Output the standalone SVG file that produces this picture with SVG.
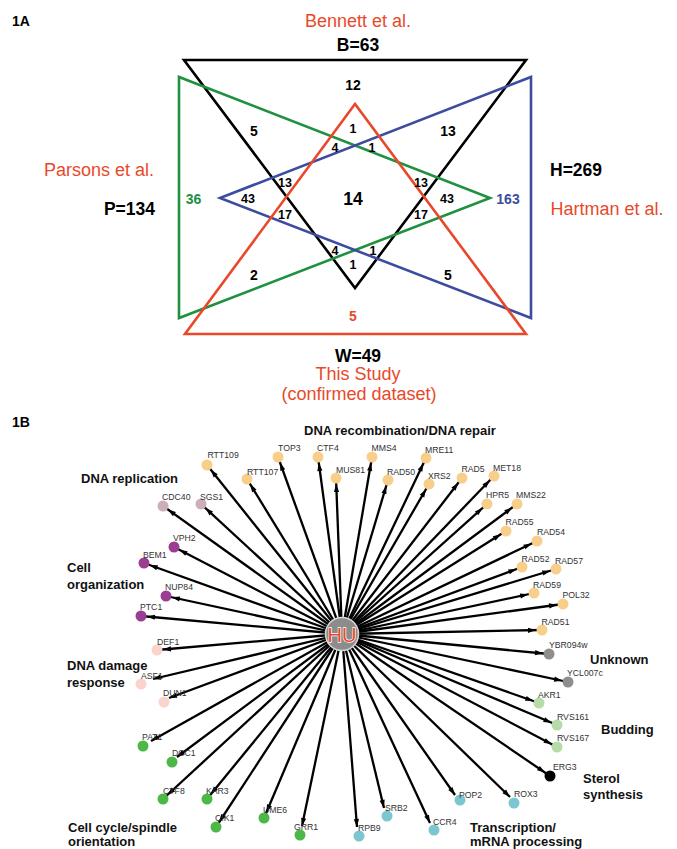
<svg xmlns="http://www.w3.org/2000/svg" width="677" height="849" viewBox="0 0 677 849">
<defs>
<style>
text{font-family:"Liberation Sans",Arial,sans-serif}
.ref{fill:#E8492A;font-size:18px}
.tot{font-weight:bold;font-size:17.5px;fill:#000}
.n{font-weight:bold;font-size:14px;text-anchor:middle;fill:#000}
.s{font-weight:bold;font-size:12.5px;text-anchor:middle;fill:#000}
.tri{fill:none;stroke-width:2.6;stroke-linejoin:miter}
.cat{font-weight:bold;font-size:13px;fill:#111}
.lb{font-size:8.7px;fill:#333}
.e{stroke:#000;stroke-width:2.3;fill:none}
.ea{marker-end:url(#a)}
.eb{marker-end:url(#b)}
.or{fill:#F8CF8A}.mv{fill:#CDAFB8}.pu{fill:#9B3D92}.pk{fill:#FAD3CC}
.gr{fill:#4CB848}.gy{fill:#8E8E8E}.lg{fill:#B7DBA6}.bk{fill:#000}.cy{fill:#7CC6D2}
</style>
<marker id="a" markerUnits="userSpaceOnUse" markerWidth="8" markerHeight="6" refX="14" refY="3" orient="auto" overflow="visible"><path d="M0,0.4 L8,3 L0,5.6 z" fill="#000"/></marker>
<marker id="b" markerUnits="userSpaceOnUse" markerWidth="8" markerHeight="6" refX="8" refY="3" orient="auto" overflow="visible"><path d="M0,0.4 L8,3 L0,5.6 z" fill="#000"/></marker>
</defs>
<rect width="677" height="849" fill="#fff"/>

<!-- Panel 1A -->
<text x="12" y="26" style="font-weight:bold;font-size:14px">1A</text>
<g id="venn">
<polygon class="tri" stroke="#000" points="184,60 526,60 355,288"/>
<polygon class="tri" stroke="#21903F" points="179,77 179,318 490,198"/>
<polygon class="tri" stroke="#3E4C9E" points="531,77 531,318 220,198"/>
<polygon class="tri" stroke="#E8492A" points="355,104 185,334 526,334"/>
</g>
<g id="venn-labels">
<text class="ref" x="358" y="27" text-anchor="middle">Bennett et al.</text>
<text class="tot" x="358" y="51" text-anchor="middle">B=63</text>
<text class="ref" x="99" y="176" text-anchor="middle">Parsons et al.</text>
<text class="tot" x="155" y="215" text-anchor="end">P=134</text>
<text class="tot" x="550" y="176">H=269</text>
<text class="ref" x="607" y="215" text-anchor="middle">Hartman et al.</text>
<text class="tot" x="358" y="362" text-anchor="middle">W=49</text>
<text class="ref" x="358" y="380" text-anchor="middle">This Study</text>
<text class="ref" x="359" y="400" text-anchor="middle">(confirmed dataset)</text>
</g>
<g id="venn-counts">
<text class="n" x="353" y="90">12</text>
<text class="n" x="254" y="136">5</text>
<text class="n" x="448" y="136">13</text>
<text class="s" x="353" y="133">1</text>
<text class="s" x="335" y="152">4</text>
<text class="s" x="372" y="152">1</text>
<text class="s" x="285" y="187">13</text>
<text class="s" x="421" y="187">13</text>
<text class="n" x="193.5" y="204" style="fill:#21903F">36</text>
<text class="s" x="248" y="203">43</text>
<text class="n" x="353" y="205" style="font-size:17.5px">14</text>
<text class="s" x="447" y="203">43</text>
<text class="n" x="508" y="204" style="fill:#3E4C9E">163</text>
<text class="s" x="285" y="219">17</text>
<text class="s" x="421" y="219">17</text>
<text class="s" x="335" y="255">4</text>
<text class="s" x="373" y="255">1</text>
<text class="s" x="353" y="269">1</text>
<text class="n" x="254" y="280">2</text>
<text class="n" x="448" y="280">5</text>
<text class="n" x="353" y="321" style="fill:#E8492A">5</text>
</g>

<!-- Panel 1B -->
<text x="12" y="427" style="font-weight:bold;font-size:14px">1B</text>
<g id="categories">
<text class="cat" x="304" y="435">DNA recombination/DNA repair</text>
<text class="cat" x="81" y="483">DNA replication</text>
<text class="cat" x="67" y="572">Cell</text>
<text class="cat" x="67" y="589">organization</text>
<text class="cat" x="67" y="670">DNA damage</text>
<text class="cat" x="67" y="687">response</text>
<text class="cat" x="68" y="832">Cell cycle/spindle</text>
<text class="cat" x="68" y="846">orientation</text>
<text class="cat" x="590" y="664">Unknown</text>
<text class="cat" x="601" y="734">Budding</text>
<text class="cat" x="583" y="783">Sterol</text>
<text class="cat" x="583" y="799">synthesis</text>
<text class="cat" x="470" y="832">Transcription/</text>
<text class="cat" x="470" y="846">mRNA processing</text>
</g>

<g id="connectors">
<line class="e ea" x1="342" y1="634" x2="207" y2="465"/>
<line class="e ea" x1="342" y1="634" x2="278" y2="457"/>
<line class="e ea" x1="342" y1="634" x2="318" y2="457"/>
<line class="e ea" x1="342" y1="634" x2="336" y2="478"/>
<line class="e ea" x1="342" y1="634" x2="247" y2="479"/>
<line class="e ea" x1="342" y1="634" x2="372" y2="457"/>
<line class="e ea" x1="342" y1="634" x2="426" y2="458"/>
<line class="e ea" x1="342" y1="634" x2="388" y2="480"/>
<line class="e ea" x1="342" y1="634" x2="429" y2="484"/>
<line class="e ea" x1="342" y1="634" x2="462" y2="478"/>
<line class="e ea" x1="342" y1="634" x2="494" y2="476"/>
<line class="e ea" x1="342" y1="634" x2="487" y2="504"/>
<line class="e ea" x1="342" y1="634" x2="517" y2="504"/>
<line class="e ea" x1="342" y1="634" x2="506" y2="531"/>
<line class="e ea" x1="342" y1="634" x2="537" y2="541"/>
<line class="e ea" x1="342" y1="634" x2="522" y2="567"/>
<line class="e ea" x1="342" y1="634" x2="556" y2="569"/>
<line class="e ea" x1="342" y1="634" x2="534" y2="593"/>
<line class="e ea" x1="342" y1="634" x2="563" y2="604"/>
<line class="e ea" x1="342" y1="634" x2="542" y2="630"/>
<line class="e ea" x1="342" y1="634" x2="163" y2="506"/>
<line class="e ea" x1="342" y1="634" x2="201" y2="504"/>
<line class="e ea" x1="342" y1="634" x2="174" y2="547"/>
<line class="e ea" x1="342" y1="634" x2="144" y2="563"/>
<line class="e ea" x1="342" y1="634" x2="166" y2="596"/>
<line class="e ea" x1="342" y1="634" x2="141" y2="616"/>
<line class="e ea" x1="342" y1="634" x2="157" y2="650"/>
<line class="e eb" x1="342" y1="634" x2="153" y2="679"/>
<line class="e eb" x1="342" y1="634" x2="169" y2="698"/>
<line class="e eb" x1="342" y1="634" x2="151" y2="741"/>
<line class="e eb" x1="342" y1="634" x2="177" y2="757"/>
<line class="e ea" x1="342" y1="634" x2="163" y2="799"/>
<line class="e ea" x1="342" y1="634" x2="207" y2="799"/>
<line class="e ea" x1="342" y1="634" x2="216" y2="827"/>
<line class="e ea" x1="342" y1="634" x2="264" y2="818"/>
<line class="e eb" x1="342" y1="634" x2="302" y2="826"/>
<line class="e eb" x1="342" y1="634" x2="357" y2="827"/>
<line class="e eb" x1="342" y1="634" x2="384" y2="808"/>
<line class="e eb" x1="342" y1="634" x2="430" y2="823"/>
<line class="e eb" x1="342" y1="634" x2="455" y2="795"/>
<line class="e eb" x1="342" y1="634" x2="510" y2="797"/>
<line class="e ea" x1="342" y1="634" x2="549" y2="654"/>
<line class="e ea" x1="342" y1="634" x2="568" y2="682"/>
<line class="e ea" x1="342" y1="634" x2="539" y2="703"/>
<line class="e ea" x1="342" y1="634" x2="557" y2="725"/>
<line class="e ea" x1="342" y1="634" x2="557" y2="747"/>
<line class="e ea" x1="342" y1="634" x2="550" y2="776"/>
</g>

<g id="HU"><circle cx="342" cy="634" r="16.5" fill="#8C8C8C" stroke="#d8d8d8" stroke-width="1.5"/><text x="342" y="641.5" text-anchor="middle" style="font-size:20px;fill:#E8492A;stroke:#fff;stroke-width:1.3;paint-order:stroke">HU</text></g>

<g id="RTT109"><circle class="or" cx="207" cy="465" r="5.5"/><text class="lb" x="207.5" y="458">RTT109</text></g>
<g id="TOP3"><circle class="or" cx="278" cy="457" r="5.5"/><text class="lb" x="278" y="451">TOP3</text></g>
<g id="CTF4"><circle class="or" cx="318" cy="457" r="5.5"/><text class="lb" x="317" y="451">CTF4</text></g>
<g id="MUS81"><circle class="or" cx="336" cy="478" r="5.5"/><text class="lb" x="336" y="473">MUS81</text></g>
<g id="RTT107"><circle class="or" cx="247" cy="479" r="5.5"/><text class="lb" x="247" y="475">RTT107</text></g>
<g id="MMS4"><circle class="or" cx="372" cy="457" r="5.5"/><text class="lb" x="371.5" y="451">MMS4</text></g>
<g id="MRE11"><circle class="or" cx="426" cy="458" r="5.5"/><text class="lb" x="425" y="453">MRE11</text></g>
<g id="RAD50"><circle class="or" cx="388" cy="480" r="5.5"/><text class="lb" x="387" y="475">RAD50</text></g>
<g id="XRS2"><circle class="or" cx="429" cy="484" r="5.5"/><text class="lb" x="428" y="479">XRS2</text></g>
<g id="RAD5"><circle class="or" cx="462" cy="478" r="5.5"/><text class="lb" x="461.5" y="472">RAD5</text></g>
<g id="MET18"><circle class="or" cx="494" cy="476" r="5.5"/><text class="lb" x="493" y="471">MET18</text></g>
<g id="HPR5"><circle class="or" cx="487" cy="504" r="5.5"/><text class="lb" x="486" y="498">HPR5</text></g>
<g id="MMS22"><circle class="or" cx="517" cy="504" r="5.5"/><text class="lb" x="516" y="498">MMS22</text></g>
<g id="RAD55"><circle class="or" cx="506" cy="531" r="5.5"/><text class="lb" x="505.5" y="525">RAD55</text></g>
<g id="RAD54"><circle class="or" cx="537" cy="541" r="5.5"/><text class="lb" x="537" y="535">RAD54</text></g>
<g id="RAD52"><circle class="or" cx="522" cy="567" r="5.5"/><text class="lb" x="521.5" y="562">RAD52</text></g>
<g id="RAD57"><circle class="or" cx="556" cy="569" r="5.5"/><text class="lb" x="555" y="564">RAD57</text></g>
<g id="RAD59"><circle class="or" cx="534" cy="593" r="5.5"/><text class="lb" x="533" y="588">RAD59</text></g>
<g id="POL32"><circle class="or" cx="563" cy="604" r="5.5"/><text class="lb" x="562.5" y="598">POL32</text></g>
<g id="RAD51"><circle class="or" cx="542" cy="630" r="5.5"/><text class="lb" x="541.5" y="625">RAD51</text></g>
<g id="CDC40"><circle class="mv" cx="163" cy="506" r="5.5"/><text class="lb" x="162" y="500">CDC40</text></g>
<g id="SGS1"><circle class="mv" cx="201" cy="504" r="5.5"/><text class="lb" x="200" y="500">SGS1</text></g>
<g id="VPH2"><circle class="pu" cx="174" cy="547" r="5.5"/><text class="lb" x="173" y="541">VPH2</text></g>
<g id="BEM1"><circle class="pu" cx="144" cy="563" r="5.5"/><text class="lb" x="143" y="558">BEM1</text></g>
<g id="NUP84"><circle class="pu" cx="166" cy="596" r="5.5"/><text class="lb" x="165" y="590">NUP84</text></g>
<g id="PTC1"><circle class="pu" cx="141" cy="616" r="5.5"/><text class="lb" x="140" y="610">PTC1</text></g>
<g id="DEF1"><circle class="pk" cx="157" cy="650" r="5.5"/><text class="lb" x="157" y="645">DEF1</text></g>
<g id="ASF1"><circle class="pk" cx="141" cy="684" r="5.5"/><text class="lb" x="141" y="678.5">ASF1</text></g>
<g id="DUN1"><circle class="pk" cx="164" cy="702" r="5.5"/><text class="lb" x="163" y="696">DUN1</text></g>
<g id="PAT1"><circle class="gr" cx="143" cy="746" r="5.5"/><text class="lb" x="142" y="740">PAT1</text></g>
<g id="DCC1"><circle class="gr" cx="172" cy="762" r="5.5"/><text class="lb" x="172" y="756">DCC1</text></g>
<g id="CTF8"><circle class="gr" cx="163" cy="799" r="5.5"/><text class="lb" x="163" y="794">CTF8</text></g>
<g id="KAR3"><circle class="gr" cx="207" cy="799" r="5.5"/><text class="lb" x="206" y="794">KAR3</text></g>
<g id="CIK1"><circle class="gr" cx="216" cy="827" r="5.5"/><text class="lb" x="215" y="821">CIK1</text></g>
<g id="UME6"><circle class="gr" cx="264" cy="818" r="5.5"/><text class="lb" x="263" y="813">UME6</text></g>
<g id="GRR1"><circle class="gr" cx="300" cy="835" r="5.5"/><text class="lb" x="294" y="830">GRR1</text></g>
<g id="RPB9"><circle class="cy" cx="359" cy="836" r="5.5"/><text class="lb" x="358" y="831">RPB9</text></g>
<g id="SRB2"><circle class="cy" cx="387" cy="816" r="5.5"/><text class="lb" x="385" y="811">SRB2</text></g>
<g id="CCR4"><circle class="cy" cx="434" cy="830" r="5.5"/><text class="lb" x="433" y="825">CCR4</text></g>
<g id="POP2"><circle class="cy" cx="460" cy="800" r="5.5"/><text class="lb" x="459" y="798">POP2</text></g>
<g id="ROX3"><circle class="cy" cx="514" cy="803" r="5.5"/><text class="lb" x="514" y="797">ROX3</text></g>
<g id="YBR094w"><circle class="gy" cx="549" cy="654" r="5.5"/><text class="lb" x="549" y="648">YBR094w</text></g>
<g id="YCL007c"><circle class="gy" cx="568" cy="682" r="5.5"/><text class="lb" x="567" y="676">YCL007c</text></g>
<g id="AKR1"><circle class="lg" cx="539" cy="703" r="5.5"/><text class="lb" x="538" y="698">AKR1</text></g>
<g id="RVS161"><circle class="lg" cx="557" cy="725" r="5.5"/><text class="lb" x="557" y="720">RVS161</text></g>
<g id="RVS167"><circle class="lg" cx="557" cy="747" r="5.5"/><text class="lb" x="557" y="741">RVS167</text></g>
<g id="ERG3"><circle class="bk" cx="550" cy="776" r="5.5"/><text class="lb" x="553" y="770">ERG3</text></g>
</svg>
